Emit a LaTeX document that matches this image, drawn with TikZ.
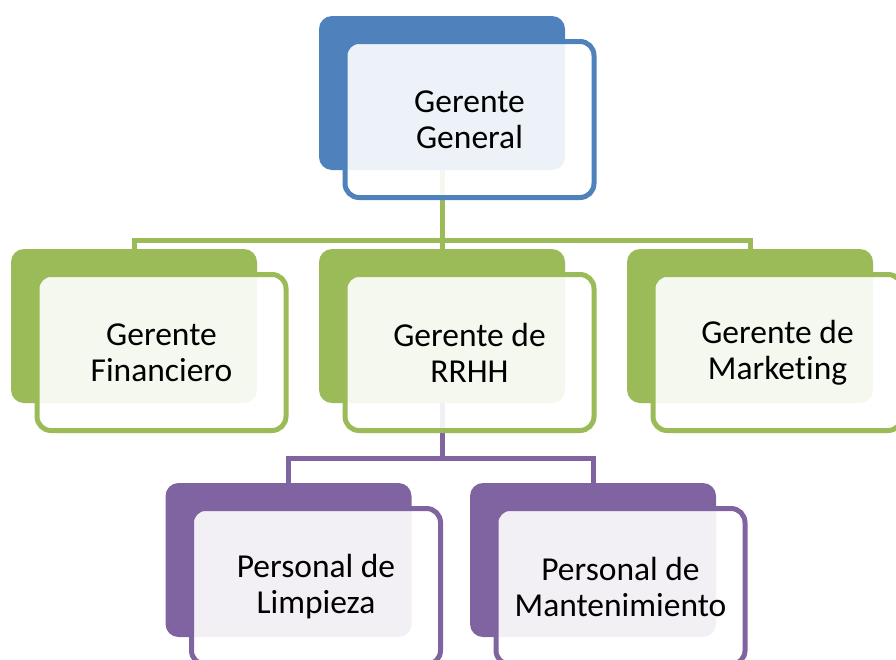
\documentclass[tikz,border=0pt]{standalone}
\usepackage{fontspec}
\setmainfont{Carlito}[Ligatures=CommonOff]
\usetikzlibrary{positioning}

\definecolor{headblue}{HTML}{4F81BD}
\definecolor{mgrgreen}{HTML}{9BBB59}
\definecolor{staffpurple}{HTML}{8064A2}

\tikzset{
  backbox/.style={rectangle, rounded corners=13pt, fill=#1, inner sep=0pt,
    minimum width=246pt, minimum height=154pt},
  frontbox/.style={rectangle, rounded corners=14pt, draw=#1, line width=5pt,
    fill=white, fill opacity=0.9, text opacity=1, inner sep=0pt,
    minimum width=249pt, minimum height=156pt, align=center,
    font=\fontsize{33.5}{36}\selectfont, xshift=27.5pt, yshift=-26.5pt},
  link/.style={draw=#1, line width=5pt}
}

\begin{document}
\begin{tikzpicture}[x=1pt, y=-1pt]
  \useasboundingbox (0,0) rectangle (896,659);
  \clip (0,0) rectangle (896,659);

  % Back tiles
  \node[backbox=headblue]    (ggb) at (442,93)    {};
  \node[backbox=mgrgreen]    (gfb) at (134,326)   {};
  \node[backbox=mgrgreen]    (grb) at (442,326)   {};
  \node[backbox=mgrgreen]    (gmb) at (750,326)   {};
  \node[backbox=staffpurple] (plb) at (288.5,560) {};
  \node[backbox=staffpurple] (pmb) at (593,560)   {};

  % Connectors
  \coordinate (busA) at (442,240);
  \coordinate (busB) at (442,458);
  \draw[link=mgrgreen] (ggb.south) -- (busA) -| (gfb.north);
  \draw[link=mgrgreen] (busA) -| (gmb.north);
  \draw[link=mgrgreen] (busA) -- (grb.north);
  \draw[link=staffpurple] (grb.south) -- (busB) -| (plb.north);
  \draw[link=staffpurple] (busB) -| (pmb.north);

  % Front cards with the texts
  \node[frontbox=headblue]    (gg) at (ggb) {Gerente\\General};
  \node[frontbox=mgrgreen]    (gf) at (gfb) {Gerente\\Financiero};
  \node[frontbox=mgrgreen]    (gr) at (grb) {Gerente de\\RRHH};
  \node[frontbox=mgrgreen]    (gm) at (gmb) {Gerente de\\Marketing};
  \node[frontbox=staffpurple] (pl) at (plb) {Personal de\\Limpieza};
  \node[frontbox=staffpurple] (pm) at (pmb) {Personal de\\Mantenimiento};
\end{tikzpicture}
\end{document}
